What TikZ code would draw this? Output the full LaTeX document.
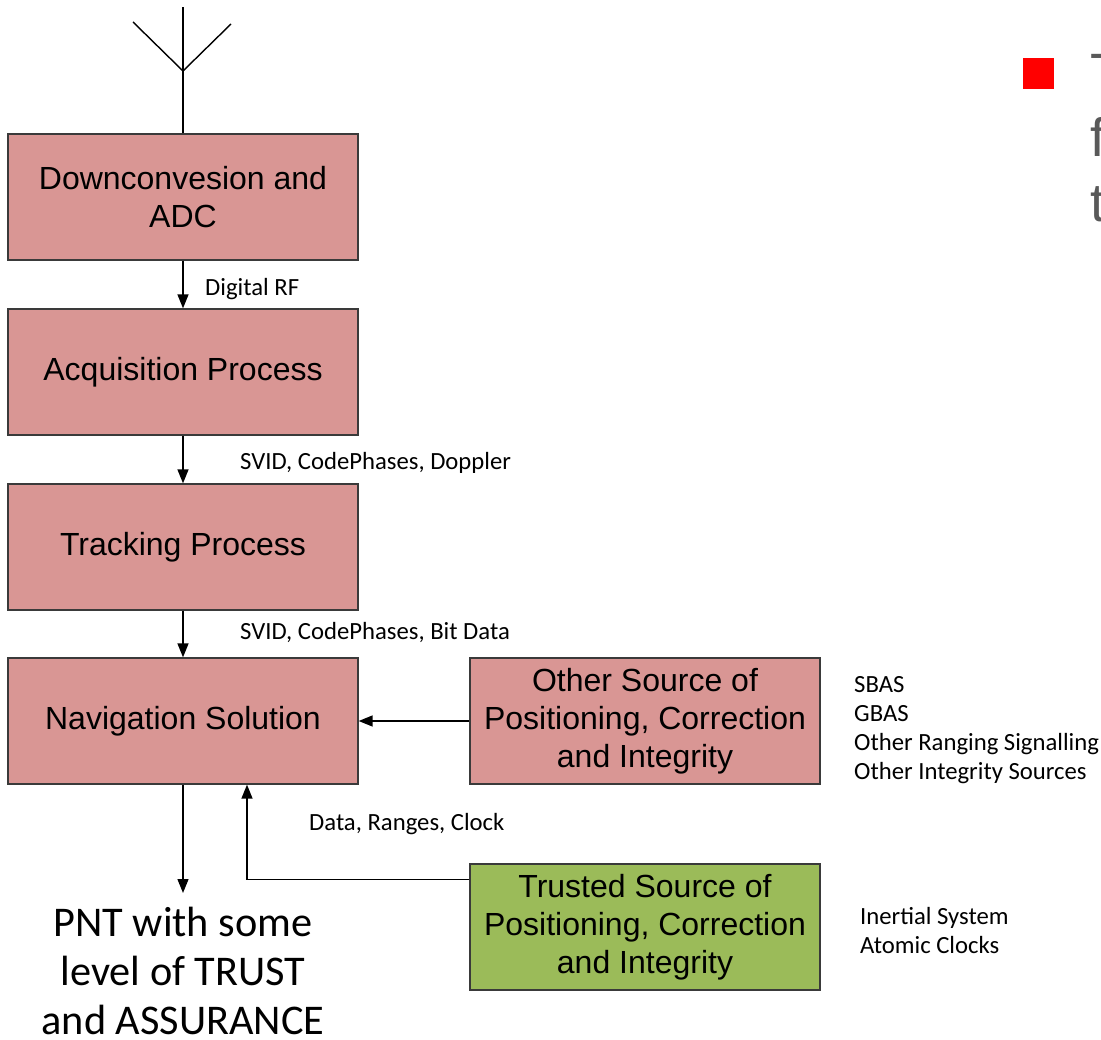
\documentclass[tikz,border=0pt]{standalone}
\usepackage{fontspec}
\setmainfont{Liberation Sans}
\newfontfamily\calibrifont{Carlito}
\usetikzlibrary{arrows.meta,calc}
\definecolor{blockred}{HTML}{D99694}
\definecolor{blockgreen}{HTML}{9BBB59}
\definecolor{edgegray}{HTML}{3A3A3A}
\definecolor{slidegray}{HTML}{595959}
\begin{document}
\begin{tikzpicture}[x=1pt,y=-1pt,
  block/.style={draw=edgegray,line width=1.3pt,fill=blockred,minimum width=350,minimum height=126,
    inner sep=0,align=center,font=\fontsize{32}{38}\selectfont},
  trusted/.style={block,fill=blockgreen},
  arr/.style={line width=1.4pt,-{Triangle[length=14pt,width=11pt]}},
  tag/.style={inner sep=0,anchor=west,align=left,font=\calibrifont\fontsize{24.7}{29}\selectfont},
  wire/.style={line width=1.4pt}]
\useasboundingbox (0,0) rectangle (1101,1040);

% processing chain
\node[block] (dn)  at (183,197) {Downconvesion and\\ADC};
\node[block] (acq) at (183,372) {Acquisition Process};
\node[block] (trk) at (183,547) {Tracking Process};
\node[block] (nav) at (183,721) {Navigation Solution};
\node[block] (oth) at (645,721) {Other Source of\\Positioning, Correction\\and Integrity};
\node[trusted] (trs) at (645,927) {Trusted Source of\\Positioning, Correction\\and Integrity};

% antenna
\coordinate (mast) at (183,7);
\coordinate (ant) at (183,71);
\coordinate (armL) at (133,22);
\coordinate (armR) at (231,24);
\draw[wire] (dn.north) -- (mast);
\draw[wire] (armL) -- (ant) -- (armR);

% connectors
\draw[arr] (dn.south) -- (acq.north);
\draw[arr] (acq.south) -- (trk.north);
\draw[arr] (trk.south) -- (nav.north);
\draw[arr] (oth.west) -- (nav.east);
\draw[arr] ($(trs.north west)+(0,16)$) -| ([xshift=64]nav.south);
\coordinate (out) at (183,893);
\draw[arr] (nav.south) -- (out);

% connector labels
\node[tag] (l1) at (205,289) {Digital RF};
\node[tag] (l2) at (240,463) {SVID, CodePhases, Doppler};
\node[tag] (l3) at (240,633) {SVID, CodePhases, Bit Data};
\node[tag] (l4) at (309,824) {Data, Ranges, Clock};

% source lists
\node[tag] (src1) at (854,730) {SBAS\\GBAS\\Other Ranging Signalling\\Other Integrity Sources};
\node[tag] (src2) at (860,930.5) {Inertial System\\Atomic Clocks};

% output
\node[inner sep=0,align=center,font=\calibrifont\fontsize{42.3}{49}\selectfont] (pnt) at (183,971)
  {PNT with some\\level of TRUST\\and ASSURANCE};

% bullet and slide text running off the edge
\fill[red] (1023,58) rectangle (1054,89);
\begin{scope}[every node/.style={anchor=base west,inner sep=0,text=slidegray,font=\fontsize{54}{65}\selectfont}]
\node (s1) at (1090,92) {T};
\node (s2) at (1090,157) {f};
\node (s3) at (1090,222) {t};
\end{scope}
\end{tikzpicture}
\end{document}
